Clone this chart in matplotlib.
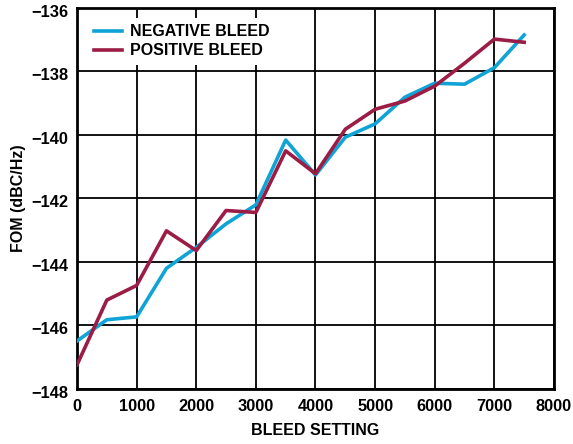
import matplotlib
matplotlib.use("Agg")
import matplotlib.pyplot as plt
from matplotlib.transforms import ScaledTranslation

plt.rcParams["font.family"] = ["Liberation Sans", "DejaVu Sans"]
plt.rcParams["font.weight"] = "bold"

bleed_setting = [0, 500, 1000, 1500, 2000, 2500, 3000, 3500, 4000,
                 4500, 5000, 5500, 6000, 6500, 7000, 7500]
fom_negative = [-146.49, -145.82, -145.73, -144.2, -143.54, -142.8, -142.2, -140.16,
                -141.26, -140.07, -139.65, -138.81, -138.37, -138.4, -137.88, -136.85]
fom_positive = [-147.24, -145.2, -144.74, -143.02, -143.64, -142.38, -142.44, -140.5,
                -141.22, -139.82, -139.19, -138.93, -138.46, -137.74, -136.98, -137.08]

x_ticks = [0, 1000, 2000, 3000, 4000, 5000, 6000, 7000, 8000]
y_ticks = [-148, -146, -144, -142, -140, -138, -136]

fig = plt.figure(figsize=(5.73, 4.44), dpi=100)
ax = fig.add_axes([0.1344, 0.124, 0.8324, 0.858])

ax.plot(bleed_setting, fom_negative, color="#0fa3d6", linewidth=2.6,
        label="NEGATIVE BLEED", zorder=3)
ax.plot(bleed_setting, fom_positive, color="#9b1c44", linewidth=2.6,
        label="POSITIVE BLEED", zorder=3)

ax.set_xlim(0, 8000)
ax.set_ylim(-148, -136)
ax.set_xticks(x_ticks)
ax.set_yticks(y_ticks)
ax.set_xticklabels([str(v) for v in x_ticks], fontsize=11.8, fontweight="bold")
ax.set_yticklabels([f"\u2212{abs(v)}" for v in y_ticks], fontsize=11.8, fontweight="bold")
ax.tick_params(axis="x", length=0, pad=7.5)
ax.tick_params(axis="y", length=0, pad=6)
# y labels sit a touch below their gridlines
shift = ScaledTranslation(0, -2 / 72, fig.dpi_scale_trans)
for lbl in ax.get_yticklabels():
    lbl.set_transform(lbl.get_transform() + shift)
ax.grid(True, color="black", linewidth=1.3)
ax.set_axisbelow(True)
for spine in ax.spines.values():
    spine.set_linewidth(2)

ax.set_xlabel("BLEED SETTING", fontsize=11.5, fontweight="bold", labelpad=6)
ax.set_ylabel("FOM (dBC/Hz)", fontsize=11.5, fontweight="bold", labelpad=4)

leg = ax.legend(loc="upper left", bbox_to_anchor=(0.005, 0.995), frameon=True,
                fancybox=False, framealpha=1, edgecolor="white", fontsize=11.5,
                handlelength=1.75, handletextpad=0.5, labelspacing=0.25,
                borderpad=0.4)
leg.get_frame().set_linewidth(0)
for text in leg.get_texts():
    text.set_fontweight("bold")

fig.savefig("out.png", dpi=100)
